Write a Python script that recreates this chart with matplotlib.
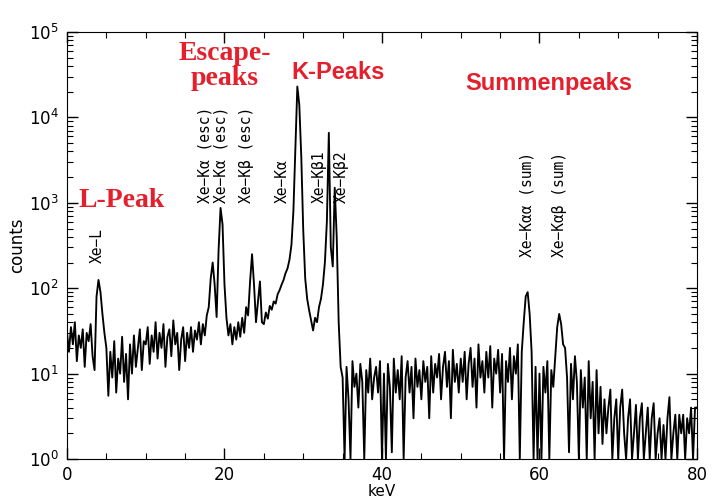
import numpy as np
import matplotlib
matplotlib.use('Agg')
from matplotlib import pyplot as plt
from matplotlib.ticker import MultipleLocator, LogLocator

# spectrum, one value per 0.25 keV channel
kev_step = 0.25
counts_low = [  # 0 - 14.75 keV, L peak
    30, 18, 35, 22, 40, 14, 28, 20, 33, 12, 30, 24, 38, 16, 11, 80, 125, 90, 50, 30,
    20, 5.5, 18, 9, 24, 6, 15, 10, 27, 8, 17, 5, 22, 10, 28, 12, 20, 33, 11, 24,
    22, 35, 13, 28, 18, 40, 15, 30, 20, 38, 12, 27, 33, 16, 42, 22, 30, 11, 25, 35,
]
counts_escape = [  # 15 - 24.75 keV, escape peaks
    14, 30, 20, 35, 18, 32, 25, 40, 22, 38, 28, 48, 60, 130, 200, 110, 46, 280, 870, 560,
    110, 45, 28, 38, 22, 35, 25, 40, 27, 45, 30, 60, 48, 120, 250, 110, 40, 70, 120, 40,
]
counts_k = [  # 25 - 34.75 keV, K lines
    38, 52, 44, 62, 56, 70, 66, 85, 95, 110, 125, 150, 170, 215, 320, 800, 4200, 23000, 14000, 3500,
    480, 130, 75, 55, 42, 32, 45, 40, 60, 75, 110, 200, 600, 6600, 300, 180, 1500, 400, 40, 12,
]
counts_flat = [  # 35 - 54.75 keV
    9, 1, 12, 5, 1, 14, 7, 10, 4, 13, 8, 1, 11, 6, 15, 5, 9, 12, 6, 14,
    1, 10, 1, 13, 7, 1.2, 15, 6, 11, 5, 16, 1, 9, 14, 6, 12, 3, 15, 7, 11,
    5, 14, 8, 12, 3, 16, 6, 13, 9, 17, 5, 12, 18, 7, 14, 3, 19, 8, 13, 6,
    15, 8, 18, 5, 13, 20, 7, 15, 4, 22, 9, 14, 6, 18, 9, 21, 4, 15, 10, 19,
]
counts_sum = [  # 55 - 80 keV, sum peaks
    6, 17, 1, 14, 8, 20, 5, 16, 10, 22, 1, 18, 40, 80, 90, 50, 18, 1, 12, 1,
    10, 1, 12, 6, 14, 1, 11, 7, 16, 35, 50, 38, 22, 20, 9, 1.2, 13, 5, 16, 8,
    1, 11, 4, 9, 1, 14, 3, 8, 1, 11, 2, 7, 1.5, 5, 2, 4, 6.5, 1, 3, 5,
    1, 4, 6.5, 2, 1, 3, 5, 1, 2, 4.3, 1, 3, 4.5, 1, 2, 4, 1, 3, 4.5, 1,
    2, 3, 1, 2.5, 1, 3, 5.3, 1, 2, 3.3, 1, 3.3, 2, 3.3, 1, 3, 2, 4, 1, 4, 4,
]

# line labels: text, energy (keV), counts level of the text foot
line_names = ['Xe\u2212L', 'Xe\u2212K\u03b1 (esc)', 'Xe\u2212K\u03b1 (esc)', 'Xe\u2212K\u03b2 (esc)',
              'Xe\u2212K\u03b1', 'Xe\u2212K\u03b21', 'Xe\u2212K\u03b22',
              'Xe\u2212K\u03b1\u03b1 (sum)', 'Xe\u2212K\u03b1\u03b2 (sum)']
line_kev = [3.8, 17.5, 19.6, 22.8, 27.4, 32.1, 34.9, 58.4, 62.6]
line_foot = [200, 1000, 1000, 1000, 1000, 1000, 1000, 230, 230]

# red group titles: text, x (axes fraction), y (axes fraction), font
group_names = ['L-Peak', 'Escape-\npeaks', 'K-Peaks', 'Summenpeaks']
group_x = [0.018, 0.250, 0.430, 0.765]
group_y = [0.606, 0.920, 0.905, 0.880]
group_font = ['Liberation Serif', 'Liberation Serif', 'Liberation Sans', 'Liberation Sans']
group_size = [20, 20, 17, 17]
group_ha = ['left', 'center', 'center', 'center']

counts = np.array(counts_low + counts_escape + counts_k + counts_flat + counts_sum)
energy = np.arange(len(counts)) * kev_step

fig = plt.figure(figsize=(7.15, 5.01), dpi=100)
ax = fig.add_axes([0.0937, 0.0838, 0.8811, 0.8523])

ax.plot(energy, counts, color='black', lw=1.35)
ax.set_yscale('log')
ax.set_xlim(0, 80)
ax.set_ylim(1, 1e5)

ax.xaxis.set_major_locator(MultipleLocator(20))
ax.xaxis.set_minor_locator(MultipleLocator(5))
ax.yaxis.set_major_locator(LogLocator(base=10))
ax.yaxis.set_minor_locator(LogLocator(base=10, subs=np.arange(2, 10)))
ax.tick_params(which='both', direction='in', top=True, right=True, labelsize=12)
ax.tick_params(which='major', length=8, width=1)
ax.tick_params(which='minor', length=4, width=0.8)
ax.tick_params(axis='y', pad=6)
ax.tick_params(axis='x', pad=5)
ax.set_xlabel('keV', fontsize=11, labelpad=0)
ax.set_ylabel('counts', fontsize=12, labelpad=2)

for name, x, y in zip(line_names, line_kev, line_foot):
    ax.text(x, y, name, rotation=90, ha='center', va='bottom',
            family='DejaVu Sans Mono', fontsize=10.5)

for name, x, y, fam, size, ha in zip(group_names, group_x, group_y,
                                     group_font, group_size, group_ha):
    ax.text(x, y, name, transform=ax.transAxes, ha=ha, va='center',
            multialignment='center', linespacing=1.0,
            family=fam, fontweight='bold', fontsize=size, color='#e3202b')

fig.savefig('out.png', dpi=100)
